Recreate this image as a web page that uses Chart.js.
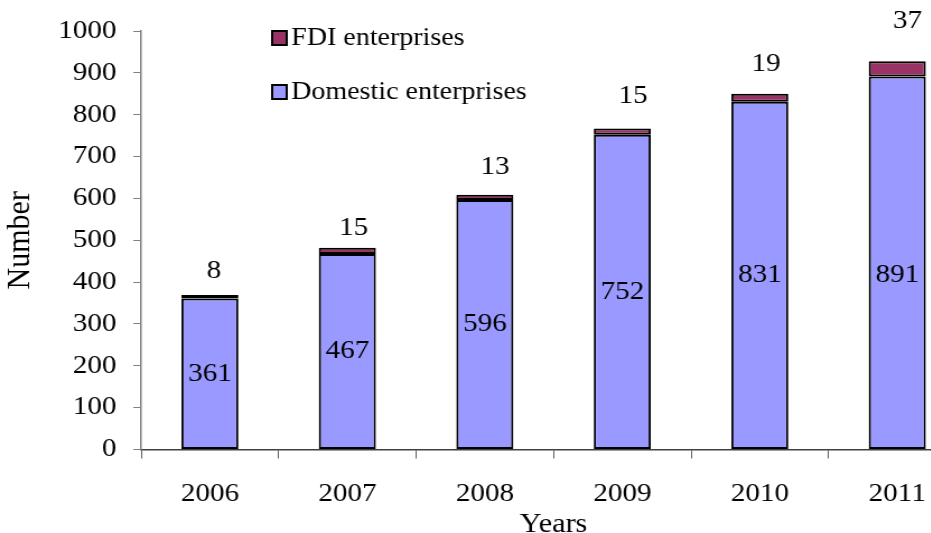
<!DOCTYPE html>
<html>
<head>
<meta charset="utf-8">
<script src="https://cdn.jsdelivr.net/npm/chart.js@4.4.1/dist/chart.umd.min.js"></script>
<style>
  html, body { margin: 0; padding: 0; background: #fff; overflow: hidden; }
  /* the chart is laid out narrower and widened afterwards, so the serif text comes out broad */
  #wrap { width: 875px; height: 545px; transform: scaleX(1.12); transform-origin: 0 0; }
</style>
</head>
<body>
<div id="wrap"><canvas id="chart"></canvas></div>
<script>
const years = ['2006', '2007', '2008', '2009', '2010', '2011'];
const domestic = [361, 467, 596, 752, 831, 891];
const fdi = [8, 15, 13, 15, 19, 37];
const yMax = 1000;
const yStep = 100;

// hand placement of the FDI numbers above each stack (px, before widening)
const fdiLabelDx = [3.5, 5.5, 9, 9.5, 5.5, 9];
const fdiLabelLift = [24, 20, 27, 32, 30, 40];
const domesticLabelDrop = [0, 0, 0, 0, 0, 12];

const serif = '"Liberation Serif", "Times New Roman", serif';
Chart.defaults.font.family = serif;
Chart.defaults.color = '#000';

// numbers on the bars: domestic in the middle, FDI just above the stack
const valueLabels = {
  id: 'valueLabels',
  afterDatasetsDraw(chart) {
    const { ctx } = chart;
    ctx.save();
    ctx.font = '26px ' + serif;
    ctx.fillStyle = '#000';
    ctx.textAlign = 'center';
    ctx.textBaseline = 'middle';
    chart.getDatasetMeta(0).data.forEach((bar, i) => {
      ctx.fillText(String(domestic[i]), bar.x, (bar.y + bar.base) / 2 + domesticLabelDrop[i]);
    });
    chart.getDatasetMeta(1).data.forEach((bar, i) => {
      ctx.fillText(String(fdi[i]), bar.x + fdiLabelDx[i], bar.y - fdiLabelLift[i]);
    });
    ctx.restore();
  },
};

// two-row legend sitting inside the plot, top series first
const stackedLegend = {
  id: 'stackedLegend',
  afterDraw(chart) {
    const { ctx, chartArea } = chart;
    const x = chartArea.left + 117;
    let y = chartArea.top + 7;
    ctx.save();
    ctx.font = '25px ' + serif;
    ctx.textBaseline = 'middle';
    ctx.textAlign = 'left';
    chart.data.datasets.slice().reverse().forEach(ds => {
      ctx.fillStyle = ds.backgroundColor;
      ctx.fillRect(x, y - 7, 13, 14);
      ctx.lineWidth = 2;
      ctx.strokeStyle = '#000';
      ctx.strokeRect(x, y - 7, 13, 14);
      ctx.fillStyle = '#000';
      ctx.fillText(ds.label, x + 17, y);
      y += 54;
    });
    ctx.restore();
  },
};

new Chart(document.getElementById('chart'), {
  type: 'bar',
  data: {
    labels: years,
    datasets: [
      {
        label: 'Domestic enterprises',
        data: domestic,
        backgroundColor: '#9999FF',
        borderColor: '#000',
        borderWidth: 2,
        borderSkipped: false,
      },
      {
        label: 'FDI enterprises',
        data: fdi,
        backgroundColor: '#993366',
        borderColor: '#000',
        borderWidth: 2,
        borderSkipped: false,
      },
    ],
  },
  options: {
    responsive: true,
    maintainAspectRatio: false,
    animation: false,
    categoryPercentage: 1,
    barPercentage: 0.415,
    layout: { padding: { top: 31, right: 12.5, left: 0, bottom: 0 } },
    plugins: {
      legend: { display: false },
      tooltip: { enabled: false },
    },
    scales: {
      x: {
        stacked: true,
        offset: true,
        grid: { offset: true, drawOnChartArea: false, tickLength: 9, color: '#606060' },
        border: { color: '#404040', width: 1.5 },
        ticks: { padding: 20, font: { size: 26 } },
        title: { display: true, text: 'Years', font: { size: 27 }, padding: { top: 0, bottom: 4 } },
        afterFit(scale) { scale.height = 95.5; },
      },
      y: {
        stacked: true,
        min: 0,
        max: yMax,
        ticks: { stepSize: yStep, padding: 15, font: { size: 26 }, callback: v => String(v) },
        grid: { drawOnChartArea: false, tickLength: 7, color: '#808080' },
        border: { color: '#808080', width: 1.5 },
        title: { display: true, text: 'Number', font: { size: 30 }, padding: { top: 0, bottom: 1.5 } },
        afterFit(scale) { scale.width = 126; },
      },
    },
  },
  plugins: [valueLabels, stackedLegend],
});
</script>
</body>
</html>
